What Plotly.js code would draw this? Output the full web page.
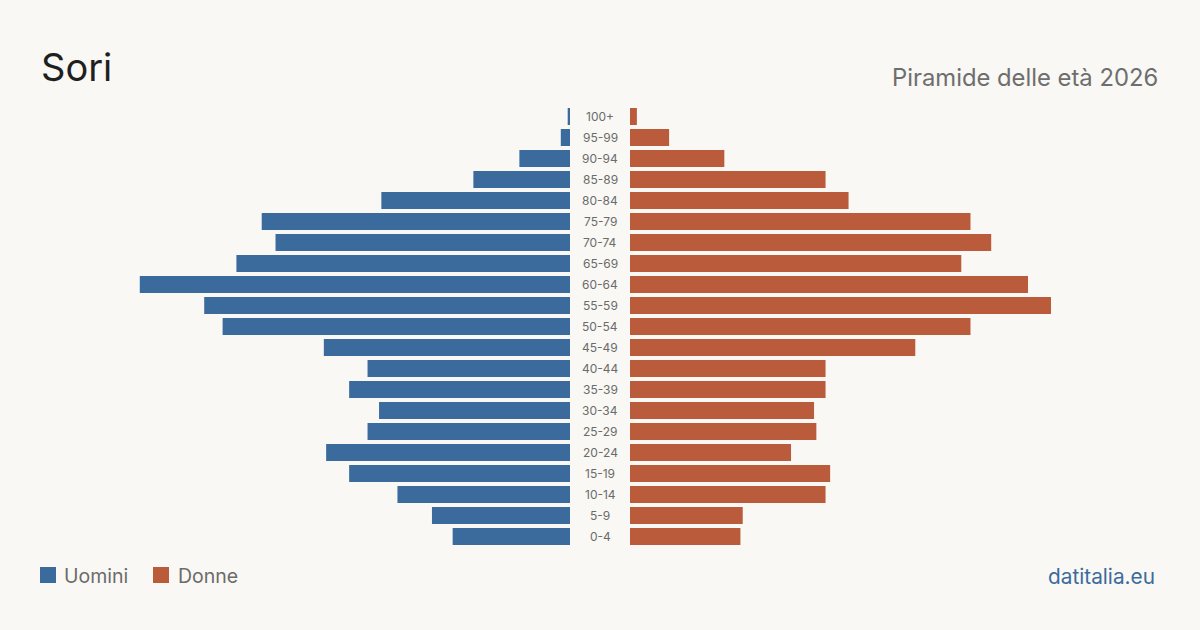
<!DOCTYPE html>
<html>
<head>
<meta charset="utf-8">
<script src="https://cdn.plot.ly/plotly-3.0.1.min.js"></script>
<style>
  html, body { margin: 0; padding: 0; background: #f9f8f4; }
  #chart { width: 1200px; height: 630px; }
</style>
</head>
<body>
<div id="chart"></div>
<script>
// Age classes, bottom to top
const ageGroups = ["0-4","5-9","10-14","15-19","20-24","25-29","30-34","35-39","40-44","45-49",
                   "50-54","55-59","60-64","65-69","70-74","75-79","80-84","85-89","90-94","95-99","100+"];
// Residents by age class
const men   = [51, 60, 75, 96, 106, 88, 83, 96, 88, 107, 151, 159, 187, 145, 128, 134, 82, 42, 22, 4, 1];
const women = [48, 49, 85, 87, 70, 81, 80, 85, 85, 124, 148, 183, 173, 144, 157, 148, 95, 85, 41, 17, 3];

const seriesNames = ["Uomini", "Donne"];
const BLUE = "#3b6b9c";
const ORANGE = "#ba5c3c";
const FONT = "Inter, 'Noto Sans', sans-serif";

const W = 1200, H = 630;
const M = { l: 0, r: 0, t: 106, b: 83 };
// Page pixel -> paper fraction (paper spans the plot area)
const px = v => (v - M.l) / (W - M.l - M.r);
const py = v => (H - M.b - v) / (H - M.t - M.b);

// Shared scale for both halves so bar lengths are comparable
const xMax = 195.6;

const traces = [
  {
    type: "bar", orientation: "h", name: seriesNames[0],
    y: ageGroups, x: men, xaxis: "x", yaxis: "y",
    marker: { color: BLUE }, hoverinfo: "x+y"
  },
  {
    type: "bar", orientation: "h", name: seriesNames[1],
    y: ageGroups, x: women, xaxis: "x2", yaxis: "y",
    marker: { color: ORANGE }, hoverinfo: "x+y"
  }
];

// Age labels in the central gap
const ageLabels = ageGroups.map(g => ({
  xref: "paper", yref: "y", x: 0.5, y: g, text: g, showarrow: false,
  xanchor: "center", yanchor: "middle",
  font: { family: FONT, size: 12, color: "#6b6b6b" }
}));

const layout = {
  width: W, height: H,
  paper_bgcolor: "#f9f8f4", plot_bgcolor: "#f9f8f4",
  margin: M,
  showlegend: false,
  bargap: 0.19,
  xaxis: {
    domain: [0.1, 0.475], range: [xMax, 0], autorange: false,
    showgrid: false, zeroline: false, showticklabels: false, ticks: "", fixedrange: true
  },
  xaxis2: {
    domain: [0.525, 0.9], range: [0, xMax], autorange: false, anchor: "y",
    showgrid: false, zeroline: false, showticklabels: false, ticks: "", fixedrange: true
  },
  yaxis: {
    type: "category", categoryorder: "array", categoryarray: ageGroups,
    range: [-0.5, ageGroups.length - 0.5], autorange: false,
    showgrid: false, zeroline: false, showticklabels: false, ticks: "", fixedrange: true
  },
  shapes: [
    { type: "rect", xref: "paper", yref: "paper", x0: px(40), x1: px(56),
      y0: py(583), y1: py(567), fillcolor: BLUE, line: { width: 0 } },
    { type: "rect", xref: "paper", yref: "paper", x0: px(153), x1: px(169),
      y0: py(583), y1: py(567), fillcolor: ORANGE, line: { width: 0 } }
  ],
  annotations: [
    { xref: "paper", yref: "paper", x: px(39), y: py(67), text: "Sori",
      showarrow: false, xanchor: "left", yanchor: "middle",
      font: { family: FONT, size: 38, color: "#1f1f1f" } },
    { xref: "paper", yref: "paper", x: px(1160), y: py(77), text: "Piramide delle età 2026",
      showarrow: false, xanchor: "right", yanchor: "middle",
      font: { family: FONT, size: 23.8, color: "#6e6e6e" } },
    { xref: "paper", yref: "paper", x: px(62), y: py(576), text: seriesNames[0],
      showarrow: false, xanchor: "left", yanchor: "middle",
      font: { family: FONT, size: 19.5, color: "#6b6b6b" } },
    { xref: "paper", yref: "paper", x: px(176), y: py(576), text: seriesNames[1],
      showarrow: false, xanchor: "left", yanchor: "middle",
      font: { family: FONT, size: 19.5, color: "#6b6b6b" } },
    { xref: "paper", yref: "paper", x: px(1157), y: py(576), text: "datitalia.eu",
      showarrow: false, xanchor: "right", yanchor: "middle",
      font: { family: FONT, size: 20.8, color: "#3b6b9c" } }
  ].concat(ageLabels)
};

Plotly.newPlot("chart", traces, layout, { displayModeBar: false, staticPlot: true });
</script>
</body>
</html>
